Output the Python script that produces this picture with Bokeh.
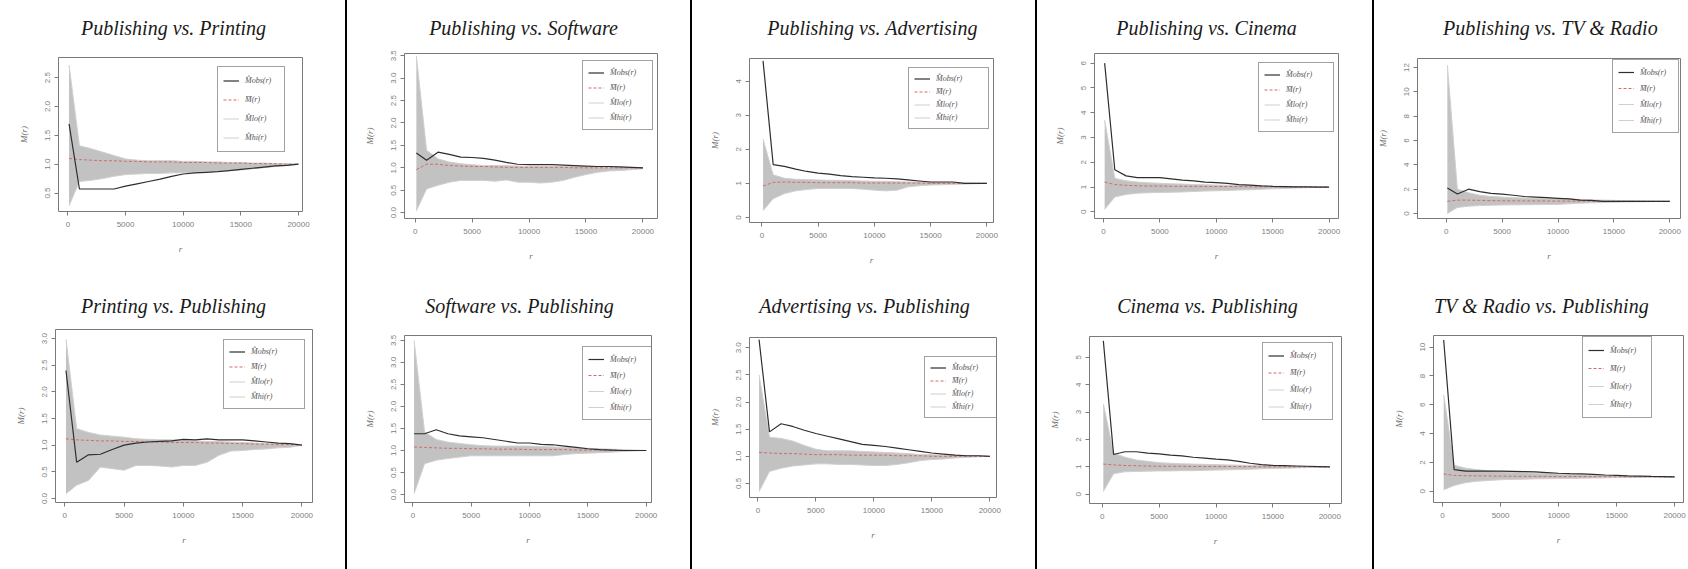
from bokeh.plotting import figure
from bokeh.layouts import row, column
from bokeh.models import (Range1d, FixedTicker, PrintfTickFormatter, Legend, LegendItem,
                          Label, Div)
from bokeh.embed import file_html
from bokeh.resources import INLINE

# ---------------- data ----------------
R = [100, 1000, 2000, 3000, 4000, 5000, 6000, 7000, 8000, 9000, 10000,
     11000, 12000, 13000, 14000, 15000, 16000, 17000, 18000, 19000, 20000]

TITLES = ["Publishing vs. Printing", "Printing vs. Publishing",
          "Publishing vs. Software", "Software vs. Publishing",
          "Publishing vs. Advertising", "Advertising vs. Publishing",
          "Publishing vs. Cinema", "Cinema vs. Publishing",
          "Publishing vs. TV & Radio", "TV & Radio vs. Publishing"]

LEGEND_LABELS = ["M\u0302obs(r)", "M\u0304(r)", "M\u0302lo(r)", "M\u0302hi(r)"]
X_TICKS = [0, 5000, 10000, 15000, 20000]

# Publishing vs. Printing
pub_print_hi = [2.72, 1.32, 1.27, 1.21, 1.15, 1.09, 1.07, 1.06, 1.06, 1.06, 1.05, 1.05, 1.04, 1.04, 1.03, 1.03, 1.02, 1.02, 1.01, 1.01, 1.00]
pub_print_lo = [0.28, 0.70, 0.72, 0.75, 0.79, 0.82, 0.83, 0.84, 0.84, 0.85, 0.85, 0.86, 0.87, 0.88, 0.89, 0.90, 0.92, 0.94, 0.96, 0.98, 1.00]
pub_print_obs = [1.70, 0.57, 0.57, 0.57, 0.57, 0.62, 0.66, 0.70, 0.74, 0.79, 0.83, 0.85, 0.86, 0.87, 0.89, 0.91, 0.93, 0.95, 0.97, 0.98, 1.00]
pub_print_theo = [1.10, 1.08, 1.07, 1.06, 1.06, 1.05, 1.05, 1.04, 1.04, 1.04, 1.03, 1.03, 1.03, 1.02, 1.02, 1.02, 1.01, 1.01, 1.01, 1.00, 1.00]
pub_print_yticks = [0.5, 1.0, 1.5, 2.0, 2.5]

# Printing vs. Publishing
print_pub_hi = [2.99, 1.31, 1.24, 1.19, 1.17, 1.15, 1.12, 1.11, 1.10, 1.10, 1.09, 1.08, 1.07, 1.07, 1.06, 1.05, 1.04, 1.03, 1.02, 1.01, 1.00]
print_pub_lo = [0.09, 0.25, 0.34, 0.59, 0.56, 0.53, 0.62, 0.62, 0.61, 0.59, 0.62, 0.62, 0.68, 0.81, 0.89, 0.90, 0.92, 0.93, 0.95, 0.96, 1.00]
print_pub_obs = [2.40, 0.68, 0.82, 0.83, 0.92, 1.00, 1.04, 1.06, 1.07, 1.08, 1.11, 1.10, 1.12, 1.10, 1.10, 1.10, 1.08, 1.06, 1.04, 1.03, 1.00]
print_pub_theo = [1.12, 1.10, 1.09, 1.08, 1.08, 1.07, 1.07, 1.06, 1.06, 1.05, 1.05, 1.05, 1.04, 1.04, 1.03, 1.03, 1.02, 1.02, 1.01, 1.01, 1.00]
print_pub_yticks = [0.0, 0.5, 1.0, 1.5, 2.0, 2.5, 3.0]

# Publishing vs. Software
pub_soft_hi = [3.50, 1.39, 1.20, 1.13, 1.09, 1.07, 1.05, 1.05, 1.05, 1.04, 1.03, 1.03, 1.03, 1.03, 1.03, 1.02, 1.02, 1.01, 1.01, 1.00, 1.00]
pub_soft_lo = [0.04, 0.53, 0.61, 0.68, 0.72, 0.72, 0.72, 0.70, 0.73, 0.68, 0.68, 0.66, 0.68, 0.72, 0.79, 0.85, 0.90, 0.93, 0.94, 0.96, 0.98]
pub_soft_obs = [1.33, 1.17, 1.35, 1.30, 1.24, 1.23, 1.21, 1.17, 1.12, 1.08, 1.07, 1.07, 1.07, 1.06, 1.05, 1.04, 1.03, 1.03, 1.02, 1.01, 1.00]
pub_soft_theo = [0.96, 1.08, 1.08, 1.05, 1.04, 1.03, 1.03, 1.02, 1.01, 1.01, 1.01, 1.01, 1.01, 1.01, 1.00, 1.00, 1.00, 1.00, 1.00, 1.00, 1.00]
pub_soft_yticks = [0.0, 0.5, 1.0, 1.5, 2.0, 2.5, 3.0, 3.5]

# Software vs. Publishing
soft_pub_hi = [3.50, 1.42, 1.25, 1.19, 1.16, 1.13, 1.11, 1.10, 1.10, 1.10, 1.10, 1.09, 1.08, 1.07, 1.06, 1.05, 1.04, 1.03, 1.02, 1.01, 1.00]
soft_pub_lo = [0.02, 0.70, 0.78, 0.82, 0.85, 0.88, 0.88, 0.88, 0.88, 0.88, 0.88, 0.88, 0.88, 0.91, 0.93, 0.94, 0.95, 0.96, 0.98, 0.99, 1.00]
soft_pub_obs = [1.38, 1.38, 1.47, 1.38, 1.33, 1.31, 1.29, 1.25, 1.21, 1.17, 1.17, 1.14, 1.13, 1.10, 1.07, 1.04, 1.02, 1.01, 1.00, 1.00, 1.00]
soft_pub_theo = [1.08, 1.07, 1.06, 1.05, 1.05, 1.04, 1.04, 1.03, 1.03, 1.03, 1.02, 1.02, 1.02, 1.02, 1.01, 1.01, 1.01, 1.01, 1.00, 1.00, 1.00]
soft_pub_yticks = [0.0, 0.5, 1.0, 1.5, 2.0, 2.5, 3.0, 3.5]

# Publishing vs. Advertising
pub_adv_hi = [2.30, 1.25, 1.15, 1.12, 1.11, 1.10, 1.09, 1.09, 1.08, 1.07, 1.06, 1.06, 1.05, 1.04, 1.04, 1.03, 1.02, 1.02, 1.01, 1.01, 1.00]
pub_adv_lo = [0.20, 0.55, 0.70, 0.78, 0.82, 0.85, 0.85, 0.85, 0.85, 0.83, 0.80, 0.78, 0.80, 0.90, 0.93, 0.95, 0.96, 0.97, 0.98, 0.99, 1.00]
pub_adv_obs = [4.60, 1.55, 1.50, 1.42, 1.35, 1.30, 1.27, 1.23, 1.20, 1.18, 1.16, 1.15, 1.13, 1.10, 1.07, 1.04, 1.04, 1.04, 1.00, 1.00, 1.00]
pub_adv_theo = [0.92, 1.03, 1.04, 1.03, 1.03, 1.02, 1.02, 1.02, 1.02, 1.01, 1.01, 1.01, 1.01, 1.01, 1.01, 1.00, 1.00, 1.00, 1.00, 1.00, 1.00]
pub_adv_yticks = [0, 1, 2, 3, 4]

# Advertising vs. Publishing
adv_pub_hi = [2.50, 1.35, 1.33, 1.28, 1.20, 1.13, 1.10, 1.10, 1.10, 1.09, 1.08, 1.07, 1.06, 1.05, 1.03, 1.03, 1.02, 1.02, 1.01, 1.01, 1.00]
adv_pub_lo = [0.35, 0.72, 0.78, 0.82, 0.84, 0.86, 0.86, 0.85, 0.85, 0.84, 0.83, 0.83, 0.85, 0.88, 0.92, 0.94, 0.95, 0.97, 0.98, 0.99, 1.00]
adv_pub_obs = [3.15, 1.45, 1.60, 1.55, 1.48, 1.42, 1.37, 1.32, 1.27, 1.22, 1.20, 1.18, 1.15, 1.12, 1.09, 1.06, 1.04, 1.02, 1.01, 1.01, 1.00]
adv_pub_theo = [1.07, 1.06, 1.05, 1.05, 1.04, 1.03, 1.03, 1.03, 1.02, 1.02, 1.02, 1.02, 1.01, 1.01, 1.01, 1.00, 1.00, 1.00, 1.00, 1.00, 1.00]
adv_pub_yticks = [0.5, 1.0, 1.5, 2.0, 2.5, 3.0]

# Publishing vs. Cinema
pub_cin_hi = [3.70, 1.35, 1.25, 1.20, 1.17, 1.15, 1.13, 1.12, 1.10, 1.09, 1.08, 1.07, 1.06, 1.05, 1.04, 1.03, 1.03, 1.02, 1.01, 1.01, 1.00]
pub_cin_lo = [0.10, 0.60, 0.70, 0.75, 0.77, 0.78, 0.79, 0.80, 0.82, 0.84, 0.85, 0.86, 0.88, 0.89, 0.91, 0.93, 0.94, 0.96, 0.97, 0.99, 1.00]
pub_cin_obs = [6.00, 1.70, 1.45, 1.38, 1.38, 1.38, 1.33, 1.28, 1.25, 1.20, 1.18, 1.15, 1.10, 1.08, 1.05, 1.03, 1.02, 1.01, 1.01, 1.00, 1.00]
pub_cin_theo = [1.20, 1.10, 1.07, 1.05, 1.04, 1.04, 1.03, 1.03, 1.03, 1.02, 1.02, 1.02, 1.02, 1.01, 1.01, 1.01, 1.01, 1.00, 1.00, 1.00, 1.00]
pub_cin_yticks = [0, 1, 2, 3, 4, 5, 6]

# Cinema vs. Publishing
cin_pub_hi = [3.30, 1.50, 1.35, 1.25, 1.20, 1.15, 1.13, 1.11, 1.10, 1.09, 1.08, 1.07, 1.06, 1.05, 1.04, 1.03, 1.03, 1.02, 1.01, 1.01, 1.00]
cin_pub_lo = [0.10, 0.75, 0.82, 0.83, 0.84, 0.85, 0.85, 0.86, 0.86, 0.87, 0.88, 0.89, 0.90, 0.91, 0.93, 0.94, 0.95, 0.96, 0.97, 0.99, 1.00]
cin_pub_obs = [5.60, 1.45, 1.55, 1.55, 1.50, 1.47, 1.43, 1.40, 1.35, 1.32, 1.28, 1.25, 1.20, 1.13, 1.08, 1.05, 1.04, 1.03, 1.02, 1.01, 1.00]
cin_pub_theo = [1.10, 1.07, 1.05, 1.04, 1.03, 1.02, 1.02, 1.02, 1.01, 1.01, 1.01, 1.01, 1.01, 1.01, 1.00, 1.00, 1.00, 1.00, 1.00, 1.00, 1.00]
cin_pub_yticks = [0, 1, 2, 3, 4, 5]

# Publishing vs. TV & Radio
pub_tv_hi = [12.2, 2.00, 1.70, 1.50, 1.40, 1.35, 1.30, 1.28, 1.25, 1.22, 1.20, 1.18, 1.15, 1.12, 1.10, 1.08, 1.06, 1.05, 1.03, 1.02, 1.00]
pub_tv_lo = [0.00, 0.50, 0.60, 0.65, 0.68, 0.70, 0.71, 0.72, 0.73, 0.74, 0.75, 0.80, 0.85, 0.88, 0.90, 0.93, 0.95, 0.96, 0.97, 0.99, 1.00]
pub_tv_obs = [2.10, 1.60, 2.00, 1.80, 1.65, 1.60, 1.50, 1.40, 1.35, 1.30, 1.25, 1.20, 1.10, 1.08, 1.00, 1.00, 1.00, 1.00, 1.00, 1.00, 1.00]
pub_tv_theo = [1.00, 1.10, 1.10, 1.08, 1.06, 1.05, 1.04, 1.04, 1.03, 1.03, 1.02, 1.02, 1.02, 1.01, 1.01, 1.01, 1.00, 1.00, 1.00, 1.00, 1.00]
pub_tv_yticks = [0, 2, 4, 6, 8, 10, 12]

# TV & Radio vs. Publishing
tv_pub_hi = [6.70, 1.80, 1.60, 1.50, 1.42, 1.35, 1.32, 1.28, 1.25, 1.22, 1.20, 1.17, 1.14, 1.11, 1.08, 1.05, 1.04, 1.03, 1.02, 1.01, 1.00]
tv_pub_lo = [0.10, 0.40, 0.60, 0.70, 0.75, 0.80, 0.82, 0.84, 0.86, 0.87, 0.88, 0.89, 0.90, 0.92, 0.93, 0.95, 0.96, 0.97, 0.98, 0.99, 1.00]
tv_pub_obs = [10.5, 1.50, 1.40, 1.40, 1.40, 1.40, 1.38, 1.36, 1.35, 1.30, 1.25, 1.22, 1.20, 1.17, 1.13, 1.10, 1.07, 1.05, 1.03, 1.02, 1.00]
tv_pub_theo = [1.20, 1.10, 1.08, 1.07, 1.06, 1.05, 1.04, 1.04, 1.03, 1.03, 1.02, 1.02, 1.02, 1.01, 1.01, 1.01, 1.00, 1.00, 1.00, 1.00, 1.00]
tv_pub_yticks = [0, 2, 4, 6, 8, 10]

SERIES = [
    (pub_print_hi, pub_print_lo, pub_print_obs, pub_print_theo, pub_print_yticks),
    (print_pub_hi, print_pub_lo, print_pub_obs, print_pub_theo, print_pub_yticks),
    (pub_soft_hi, pub_soft_lo, pub_soft_obs, pub_soft_theo, pub_soft_yticks),
    (soft_pub_hi, soft_pub_lo, soft_pub_obs, soft_pub_theo, soft_pub_yticks),
    (pub_adv_hi, pub_adv_lo, pub_adv_obs, pub_adv_theo, pub_adv_yticks),
    (adv_pub_hi, adv_pub_lo, adv_pub_obs, adv_pub_theo, adv_pub_yticks),
    (pub_cin_hi, pub_cin_lo, pub_cin_obs, pub_cin_theo, pub_cin_yticks),
    (cin_pub_hi, cin_pub_lo, cin_pub_obs, cin_pub_theo, cin_pub_yticks),
    (pub_tv_hi, pub_tv_lo, pub_tv_obs, pub_tv_theo, pub_tv_yticks),
    (tv_pub_hi, tv_pub_lo, tv_pub_obs, tv_pub_theo, tv_pub_yticks),
]

# ---------------- layout (page pixels) ----------------
COL_X0 = [0, 347, 692, 1037, 1374]
COL_W = [345, 343, 343, 335, 314]
ROW_Y0 = [0, 285]
ROW_H = [285, 284]
TITLE_H = 40

# frame box (L, R, T, B) in page px, value ranges, title centre/baseline, legend box (L, R, T, B)
GEOM = [
    dict(box=(58, 302, 57, 211), xr=(-815, 20347), yr=(0.18, 2.85), fmt="%.1f", tc=173, tb=27, leg=(217, 283, 65, 152)),
    dict(box=(55, 312, 329, 502), xr=(-783, 20893), yr=(-0.075, 3.17), fmt="%.1f", tc=173, tb=305, leg=(223, 303, 338, 409)),
    dict(box=(404, 657, 53, 218), xr=(-940, 21282), yr=(-0.13, 3.55), fmt="%.1f", tc=523, tb=27, leg=(582, 651, 61, 130)),
    dict(box=(404, 651, 335, 502), xr=(-721, 20455), yr=(-0.18, 3.61), fmt="%.1f", tc=519, tb=305, leg=(582, 650, 346, 420)),
    dict(box=(749, 993, 58, 222), xr=(-1105, 20588), yr=(-0.15, 4.67), fmt="%d", tc=872, tb=27, leg=(908, 987, 68, 129)),
    dict(box=(749, 996, 337, 497), xr=(-725, 20578), yr=(0.24, 3.19), fmt="%.1f", tc=864, tb=305, leg=(924, 995, 358, 418)),
    dict(box=(1094, 1338, 53, 218), xr=(-800, 20836), yr=(-0.27, 6.39), fmt="%d", tc=1206, tb=27, leg=(1258, 1332, 62, 132)),
    dict(box=(1089, 1341, 336, 503), xr=(-1116, 21028), yr=(-0.34, 5.76), fmt="%d", tc=1207, tb=305, leg=(1262, 1331, 344, 420)),
    dict(box=(1417, 1680, 58, 218), xr=(-2570, 20958), yr=(-0.41, 12.74), fmt="%d", tc=1550, tb=27, leg=(1612, 1677, 61, 133)),
    dict(box=(1433, 1683, 335, 502), xr=(-777, 20770), yr=(-0.78, 10.81), fmt="%d", tc=1541, tb=305, leg=(1582, 1650, 338, 418)),
]

AX_COLOR = "#7a7a7a"
BAND = "#c2c2c2"


def make_title(i):
    col, rw = i // 2, i % 2
    g = GEOM[i]
    x0, w = COL_X0[col], COL_W[col]
    y0 = ROW_Y0[rw]
    t = figure(width=w, height=TITLE_H, output_backend="svg", toolbar_location=None,
               x_range=Range1d(0, 1), y_range=Range1d(0, 1),
               x_axis_type=None, y_axis_type=None, frame_align=False,
               min_border_left=0, min_border_right=0, min_border_top=0, min_border_bottom=0)
    t.outline_line_color = None
    t.grid.visible = False
    t.add_layout(Label(x=g["tc"] - x0, y=TITLE_H - (g["tb"] - y0), x_units="screen", y_units="screen",
                       text=TITLES[i], text_align="center", text_baseline="alphabetic",
                       text_font="Liberation Serif", text_font_style="italic",
                       text_font_size="20px", text_color="#1a1a1a"))
    return t


def make_panel(i):
    col, rw = i // 2, i % 2
    g = GEOM[i]
    hi, lo, obs, theo, yticks = SERIES[i]
    x0, w = COL_X0[col], COL_W[col]
    y0, h = ROW_Y0[rw] + TITLE_H, ROW_H[rw] - TITLE_H
    L, Rr, T, B = g["box"]
    p = figure(width=w, height=h, output_backend="svg", toolbar_location=None,
               x_range=Range1d(*g["xr"]), y_range=Range1d(*g["yr"]), frame_align=False,
               min_border_left=L - x0, min_border_right=x0 + w - Rr,
               min_border_top=T - y0, min_border_bottom=y0 + h - B,
               background_fill_color="white", border_fill_color="white")
    p.grid.visible = False
    p.outline_line_color = AX_COLOR
    p.outline_line_width = 1

    for ax in (p.xaxis[0], p.yaxis[0]):
        ax.axis_line_color = AX_COLOR
        ax.major_tick_line_color = AX_COLOR
        ax.major_tick_out = 4
        ax.major_tick_in = 0
        ax.minor_tick_line_color = None
        ax.major_label_text_font = "Liberation Sans"
        ax.major_label_text_font_size = "8px"
        ax.major_label_text_color = "#808080"
        ax.axis_label_text_font = "Liberation Serif"
        ax.axis_label_text_font_style = "italic"
        ax.axis_label_text_font_size = "9px"
        ax.axis_label_text_color = "#707070"
    p.xaxis.ticker = FixedTicker(ticks=X_TICKS)
    p.xaxis.formatter = PrintfTickFormatter(format="%d")
    p.xaxis.bounds = (X_TICKS[0], X_TICKS[-1])
    p.xaxis.major_label_standoff = 6
    p.xaxis.axis_label = "r"
    p.xaxis.axis_label_standoff = 14
    p.yaxis.ticker = FixedTicker(ticks=yticks)
    p.yaxis.formatter = PrintfTickFormatter(format=g["fmt"])
    p.yaxis.bounds = (yticks[0], yticks[-1])
    p.yaxis.major_label_orientation = "vertical"
    p.yaxis.major_label_standoff = 4
    p.yaxis.axis_label = "M(r)"
    p.yaxis.axis_label_standoff = 14

    p.varea(x=R, y1=lo, y2=hi, fill_color=BAND, fill_alpha=1.0)
    r_lo = p.line(R, lo, line_color="#cfcfcf", line_width=1)
    r_hi = p.line(R, hi, line_color="#cfcfcf", line_width=1)
    r_theo = p.line(R, theo, line_color="#d26b6b", line_width=1, line_dash="3 2")
    r_obs = p.line(R, obs, line_color="#2e2e2e", line_width=1.2)

    lL, lR, lT, lB = g["leg"]
    pad, sp, gw, so = 5, 2, 16, 6
    lh = (lB - lT - 2 * pad - 3 * sp) / 4.0
    legend = Legend(
        items=[LegendItem(label=LEGEND_LABELS[0], renderers=[r_obs]),
               LegendItem(label=LEGEND_LABELS[1], renderers=[r_theo]),
               LegendItem(label=LEGEND_LABELS[2], renderers=[r_lo]),
               LegendItem(label=LEGEND_LABELS[3], renderers=[r_hi])],
        location=(lL - L, B - lB), margin=0, padding=pad, spacing=sp,
        glyph_width=gw, glyph_height=int(lh), label_height=int(lh),
        label_standoff=so, label_width=max(10, (lR - lL) - 2 * pad - gw - so),
        label_text_font="Liberation Serif", label_text_font_style="italic",
        label_text_font_size="8px", label_text_color="#555555",
        border_line_color="#444444", border_line_width=1,
        background_fill_color="white", background_fill_alpha=1.0)
    p.add_layout(legend)
    return p


def sep():
    return Div(text="", width=2, height=569, margin=0,
               styles={"background-color": "#000000"})


cols = []
for c in range(5):
    cols.append(column(make_title(2 * c), make_panel(2 * c),
                       make_title(2 * c + 1), make_panel(2 * c + 1), spacing=0))

root = row(cols[0], sep(), cols[1], sep(), cols[2], sep(), cols[3], sep(), cols[4], spacing=0)

open("out.html", "w").write(file_html(root, INLINE))
